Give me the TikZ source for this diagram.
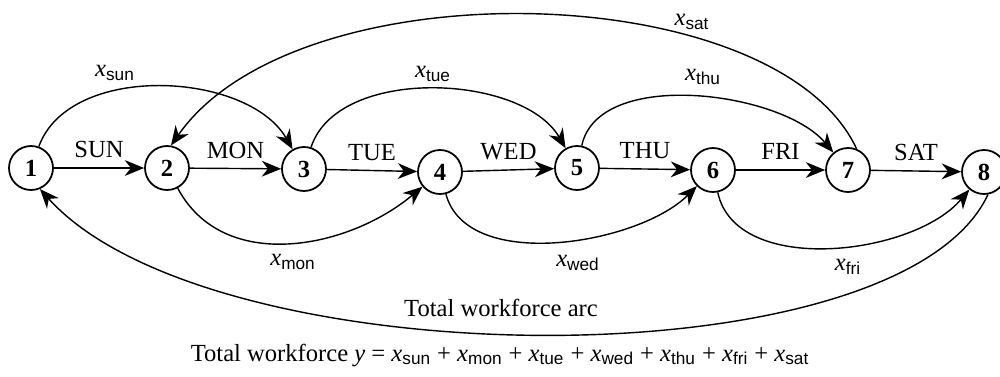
\documentclass[tikz,border=0pt]{standalone}
\usepackage{amsmath}
\usepackage{fontspec}
\setmainfont{Liberation Serif}
\setsansfont{Liberation Sans}
\usetikzlibrary{arrows.meta}

\newcommand{\crew}[1]{$\textit{x}_{\textsf{#1}}$}

\begin{document}
\begin{tikzpicture}[
    every node/.style={font=\fontsize{14}{16}\selectfont},
    daynode/.style={circle, draw, line width=1pt, minimum size=0.88cm,
        inner sep=0pt, font=\fontsize{14}{16}\selectfont\bfseries},
    flow/.style={line width=0.8pt,
        -{Stealth[length=11pt,width=9pt,inset=3.5pt]}}
]
\useasboundingbox (0,0) rectangle (20,7.52);

% Days
\node[daynode] (1) at (0.62,4.16) {1};
\node[daynode] (2) at (3.34,4.16) {2};
\node[daynode] (3) at (6.08,4.14) {3};
\node[daynode] (4) at (8.80,4.08) {4};
\node[daynode] (5) at (11.54,4.16) {5};
\node[daynode] (6) at (14.26,4.12) {6};
\node[daynode] (7) at (16.96,4.12) {7};
\node[daynode] (8) at (19.68,4.08) {8};

% One-day arcs
\draw[flow] (1) -- node[above=2pt] (sun) {SUN} (2);
\draw[flow] (2) -- node[above=2pt] (mon) {MON} (3);
\draw[flow] (3) -- node[above=2pt] (tue) {TUE} (4);
\draw[flow] (4) -- node[above=2pt] (wed) {WED} (5);
\draw[flow] (5) -- node[above=2pt] (thu) {THU} (6);
\draw[flow] (6) -- node[above=2pt] (fri) {FRI} (7);
\draw[flow] (7) -- node[above=2pt] (sat) {SAT} (8);

% Two-day arcs, top
\draw[flow] (1) to[out=70,in=120,distance=1.8cm] (3);
\draw[flow] (3) to[out=72,in=120,distance=1.72cm] (5);
\draw[flow] (5) to[out=78,in=130,distance=1.6cm] (7);
\draw[flow] (7.68) to[out=115,in=55,out distance=3.8cm,in distance=4.4cm] (2.80);

% Two-day arcs, bottom
\draw[flow] (2) to[out=-62,in=-140,distance=1.94cm] (4);
\draw[flow] (4) to[out=-75,in=-135,distance=1.64cm] (6);
\draw[flow] (6) to[out=-78,in=-130,distance=1.73cm] (8);

% Total workforce arc
\draw[flow] (8.280) to[out=245,in=312,out distance=4.2cm,in distance=5.1cm] (1.293);

% Labels
\node (xsun) at (2.30,6.06) {\crew{sun}};
\node (xtue) at (8.66,6.04) {\crew{tue}};
\node (xthu) at (14.06,5.98) {\crew{thu}};
\node (xsat) at (13.84,7.08) {\crew{sat}};
\node (xmon) at (5.86,2.28) {\crew{mon}};
\node (xwed) at (11.56,2.26) {\crew{wed}};
\node (xfri) at (16.96,2.18) {\crew{fri}};
\node (total) at (10.02,1.36) {Total workforce arc};
\node (sum) at (10.0,0.42) {Total workforce \textit{y} = \crew{sun} + \crew{mon}
    + \crew{tue} + \crew{wed} + \crew{thu} + \crew{fri} + \crew{sat}};

\end{tikzpicture}
\end{document}
